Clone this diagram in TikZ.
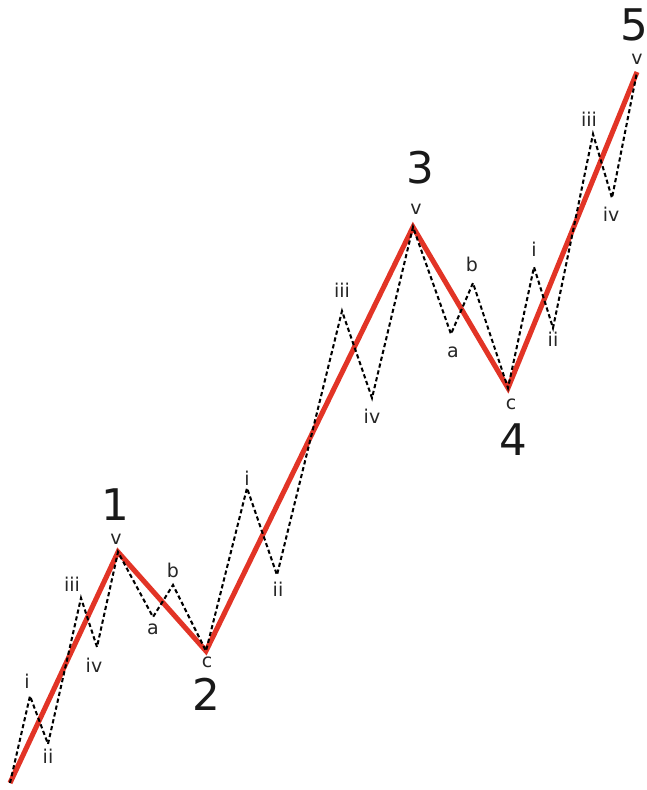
\documentclass[tikz,border=0pt]{standalone}
\usepackage{fontspec}
\setmainfont{DejaVu Sans}
\usetikzlibrary{calc}

\definecolor{waveRed}{RGB}{226,52,38}

\begin{document}
\begin{tikzpicture}[
  x=0.025cm, y=-0.025cm,
  impulse/.style={draw=waveRed, line width=3.6pt, line join=miter},
  subwave/.style={draw=black, line width=1.45pt, dash pattern=on 3pt off 2pt},
  lbl/.style={anchor=base, inner sep=0pt, font=\fontsize{13.5}{16}\selectfont, text=black!85},
  bignum/.style={anchor=base, inner sep=0pt, font=\fontsize{31}{36}\selectfont, text=black!90},
]

\useasboundingbox (0,0) rectangle (646,790);

%% ====================================================================
%%  TURNING POINTS
%% ====================================================================
\coordinate (w0)    at (10,783);
% -- wave 1 --
\coordinate (w1i)   at (30,696);
\coordinate (w1ii)  at (48,744);
\coordinate (w1iii) at (81,598);
\coordinate (w1iv)  at (97,647);
\coordinate (w1)    at (118,552);
% -- wave 2 --
\coordinate (w2a)   at (153,617);
\coordinate (w2b)   at (173,585);
\coordinate (w2)    at (206,651);
% -- wave 3 --
\coordinate (w3i)   at (247,488);
\coordinate (w3ii)  at (277,575);
\coordinate (w3iii) at (342,311);
\coordinate (w3iv)  at (372,398);
\coordinate (w3)    at (413,227);
% -- wave 4 --
\coordinate (w4a)   at (451,334);
\coordinate (w4b)   at (473,283);
\coordinate (w4)    at (508,388);
% -- wave 5 --
\coordinate (w5i)   at (534,267);
\coordinate (w5ii)  at (553,328);
\coordinate (w5iii) at (593,134);
\coordinate (w5iv)  at (612,198);
\coordinate (w5)    at (637,72);

%% ====================================================================
%%  MAIN WAVES
%% ====================================================================
\draw[impulse] (w0) -- (w1) -- (w2) -- (w3) -- (w4) -- (w5);

%% ====================================================================
%%  SUB WAVES
%% ====================================================================
\draw[subwave] (w0) -- (w1i) -- (w1ii) -- (w1iii) -- (w1iv) -- (w1)
  -- (w2a) -- (w2b) -- (w2)
  -- (w3i) -- (w3ii) -- (w3iii) -- (w3iv) -- (w3)
  -- (w4a) -- (w4b) -- (w4)
  -- (w5i) -- (w5ii) -- (w5iii) -- (w5iv) -- (w5);

%% ====================================================================
%%  SUB WAVE LABELS
%% ====================================================================
\node[lbl] (t1i)   at (27,688)  {i};
\node[lbl] (t1ii)  at (48,763)  {ii};
\node[lbl] (t1iii) at (72,591)  {iii};
\node[lbl] (t1iv)  at (94,672)  {iv};
\node[lbl] (t1v)   at (116,544) {v};

\node[lbl] (t2a)   at (153,634) {a};
\node[lbl] (t2b)   at (173,577) {b};
\node[lbl] (t2c)   at (207,667) {c};

\node[lbl] (t3i)   at (247,485) {i};
\node[lbl] (t3ii)  at (278,596) {ii};
\node[lbl] (t3iii) at (342,297) {iii};
\node[lbl] (t3iv)  at (372,423) {iv};
\node[lbl] (t3v)   at (416,214) {v};

\node[lbl] (t4a)   at (453,357) {a};
\node[lbl] (t4b)   at (472,271) {b};
\node[lbl] (t4c)   at (511,409) {c};

\node[lbl] (t5i)   at (534,256) {i};
\node[lbl] (t5ii)  at (553,346) {ii};
\node[lbl] (t5iii) at (589,126) {iii};
\node[lbl] (t5iv)  at (611,221) {iv};
\node[lbl] (t5v)   at (637,64)  {v};

%% ====================================================================
%%  WAVE NUMBERS
%% ====================================================================
\node[bignum] (n1) at (115,520) {1};
\node[bignum] (n2) at (206,710) {2};
\node[bignum] (n3) at (420,183) {3};
\node[bignum] (n4) at (513,455) {4};
\node[bignum] (n5) at (634,40)  {5};

\end{tikzpicture}
\end{document}
